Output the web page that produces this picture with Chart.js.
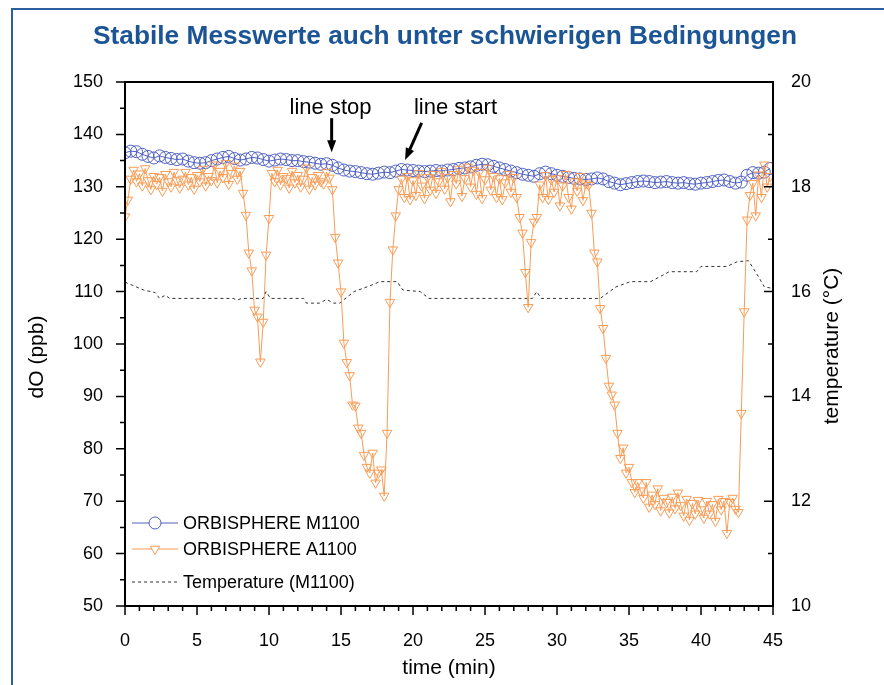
<!DOCTYPE html>
<html>
<head>
<meta charset="utf-8">
<script src="https://cdn.jsdelivr.net/npm/chart.js@4.4.0/dist/chart.umd.min.js"></script>
<style>
  html, body { margin: 0; padding: 0; background: #fff; overflow: hidden; }
  #wrap { position: relative; width: 884px; height: 685px; overflow: hidden; }
  #frame { position: absolute; left: 11px; top: 8px; width: 1200px; height: 1000px;
           border-left: 2px solid #2b5e9e; border-top: 2px solid #2b5e9e; }
  canvas { position: absolute; left: 0; top: 0; }
</style>
</head>
<body>
<div id="wrap">
  <div id="frame"></div>
  <canvas id="chart" width="884" height="685"></canvas>
</div>
<script>
// ---- data ----
const TITLE = 'Stabile Messwerte auch unter schwierigen Bedingungen';
const X_TICKS = [0, 5, 10, 15, 20, 25, 30, 35, 40, 45];
const Y_TICKS = [50, 60, 70, 80, 90, 100, 110, 120, 130, 140, 150];
const T_TICKS = [10, 12, 14, 16, 18, 20];

// M1100 dO (ppb), one value every 0.4 min from t = 0
const STEP_M = 0.4;
const dO_M1100 = [
  136.5, 136.8, 136.7, 136.2, 135.8, 135.5, 135.9, 135.6, 135.4, 135.2,
  135.3, 134.9, 134.6, 134.5, 134.6, 135.0, 135.3, 135.6, 135.8, 135.4,
  135.1, 135.3, 135.6, 135.5, 135.2, 134.9, 135.1, 135.3, 135.2, 135.0,
  135.0, 134.8, 134.7, 134.5, 134.3, 134.4, 134.1, 133.6, 133.2, 133.0,
  132.9, 132.7, 132.5, 132.4, 132.6, 132.8, 132.7, 133.0, 133.3, 133.2,
  133.1, 133.0, 132.9, 133.0, 133.1, 133.0, 133.2, 133.3, 133.5, 133.6,
  133.8, 134.1, 134.3, 134.2, 133.9, 133.6, 133.3, 133.0, 132.7, 132.4,
  132.2, 132.0, 132.5, 132.8, 132.5, 132.2, 132.0, 131.8, 131.6, 131.5,
  131.4, 131.5, 131.7, 131.5, 131.0, 130.7, 130.4, 130.6, 130.8, 131.0,
  131.1, 131.0, 130.8, 130.9, 131.0, 130.8, 130.7, 130.8, 130.6, 130.5,
  130.7, 130.8, 131.0, 131.2, 131.3, 131.0, 130.7, 130.9, 132.2, 132.7,
  132.6, 132.8, 133.5
];

// A1100 dO (ppb), one value every 0.2 min from t = 0
const STEP_A = 0.2;
const dO_A1100 = [
  124.3, 127.5, 131.5, 133.2, 131.0, 132.5, 130.2, 133.5, 131.2, 129.5,
  132.0, 130.5, 131.8, 129.2, 132.4, 131.0, 130.0, 132.8, 131.2, 129.8,
  131.5, 132.8, 130.4, 131.8, 129.6, 132.2, 131.0, 133.4, 130.2, 132.0,
  131.2, 134.2, 130.8, 133.0, 131.8, 134.5, 130.5, 132.6, 134.0, 131.5,
  133.0, 128.8, 124.6, 117.4, 114.0, 106.5, 105.2, 96.6, 104.2, 117.0,
  124.0, 132.6, 131.0, 133.2, 130.4, 132.0, 131.6, 129.8, 133.0, 130.8,
  132.2, 130.0, 131.5, 133.6, 129.6, 131.8, 130.4, 132.2, 131.0, 130.6,
  132.8, 131.7, 129.5, 120.4, 115.5, 110.0, 100.2, 96.5, 94.0, 88.4,
  88.2, 84.0, 83.0, 78.8, 76.5, 75.4, 79.2, 73.5, 75.4, 76.0,
  71.0, 83.0, 108.0, 118.0, 124.5, 129.5, 131.5, 128.0, 132.0, 127.6,
  131.2, 128.4, 132.6, 130.2, 127.8, 131.8, 129.4, 132.4, 128.8, 131.0,
  133.0, 129.6, 131.8, 127.2, 132.4, 130.6, 133.4, 128.2, 131.6, 133.8,
  130.0, 133.2, 128.6, 132.8, 127.8, 131.4, 133.6, 129.4, 132.0, 128.0,
  131.6, 127.6, 130.8, 132.4, 129.0, 131.8, 128.0, 124.2, 121.2, 113.7,
  107.0, 119.4, 123.3, 124.2, 130.4, 128.0, 132.2, 127.6, 131.4, 129.0,
  131.6, 126.4, 130.2, 132.4, 128.0, 125.8, 131.0, 129.2, 132.0, 127.4,
  130.6, 130.3, 125.0, 117.4, 115.7, 106.8, 103.0, 97.3, 92.0, 90.3,
  88.4, 83.0, 78.2, 80.2, 75.4, 76.5, 73.6, 71.7, 73.6, 72.0,
  70.6, 73.6, 68.9, 71.2, 69.4, 72.4, 68.2, 70.6, 69.8, 67.8,
  70.8, 68.6, 71.6, 69.2, 67.2, 70.4, 66.4, 69.6, 67.6, 70.2,
  68.4, 66.8, 70.0, 67.6, 69.4, 66.2, 70.4, 68.4, 70.0, 63.9,
  69.8, 70.6, 68.5, 67.9, 86.8, 106.2, 123.7, 128.4, 130.7, 124.5,
  132.3, 128.0, 134.2, 130.0, 132.0
];

// temperature of the M1100 (°C), at the break points of the dashed line
const timeTemp = [0, 1.3, 2.1, 2.4, 2.8, 3.1, 7.5, 7.8, 8.1, 9.6, 9.8, 10.1, 12.4, 12.6,
  13.5, 14.0, 14.5, 14.9, 15.9, 17.0, 17.7, 18.9, 19.3, 20.5, 21.1, 28.3, 28.6, 28.9,
  33.0, 34.1, 35.1, 36.5, 37.8, 39.7, 40.0, 41.8, 42.5, 43.3, 44.0, 44.4, 45];
const tempM1100 = [16.18, 16.03, 15.98, 15.87, 15.93, 15.87, 15.87, 15.84, 15.87, 15.87,
  16.0, 15.87, 15.87, 15.78, 15.78, 15.85, 15.78, 15.78, 16.0, 16.11, 16.19, 16.19,
  16.03, 16.0, 15.87, 15.87, 16.0, 15.87, 15.87, 16.09, 16.19, 16.19, 16.38, 16.38,
  16.48, 16.48, 16.57, 16.59, 16.28, 16.09, 16.06];

const BLUE = '#4f60c2';
const ORANGE = '#f99c55';
const FONT = '"Liberation Sans", Arial, sans-serif';

const pointsM = dO_M1100.map((v, i) => ({ x: i * STEP_M, y: v }));
const pointsA = dO_A1100.map((v, i) => ({ x: i * STEP_A, y: v }));
const pointsT = tempM1100.map((v, i) => ({ x: timeTemp[i], y: v }));

// frame, ticks, titles, legend and annotations
const decor = {
  id: 'decor',
  afterDraw(chart) {
    const { ctx, chartArea: a, scales: { x, y, y2 } } = chart;
    ctx.save();

    // title, squeezed to the width it has in the original
    ctx.fillStyle = '#1b5596';
    ctx.font = 'bold 26px "Liberation Sans Narrow", "Liberation Sans", Arial';
    const w = ctx.measureText(TITLE).width;
    ctx.save();
    ctx.translate(445, 44);
    ctx.scale(704 / w, 1);
    ctx.textAlign = 'center';
    ctx.textBaseline = 'alphabetic';
    ctx.fillText(TITLE, 0, 0);
    ctx.restore();

    // box
    ctx.strokeStyle = '#000';
    ctx.lineWidth = 2;
    ctx.strokeRect(a.left, a.top, a.right - a.left, a.bottom - a.top);

    // ticks
    ctx.lineWidth = 1.5;
    ctx.beginPath();
    for (let v = 50; v <= 150; v += 5) {
      const p = y.getPixelForValue(v), len = v % 10 === 0 ? 9 : 5;
      ctx.moveTo(a.left - len, p); ctx.lineTo(a.left, p);
    }
    for (let v = 0; v <= 45; v += 1) {
      const p = x.getPixelForValue(v), len = v % 5 === 0 ? 9 : 5;
      ctx.moveTo(p, a.bottom); ctx.lineTo(p, a.bottom + len);
    }
    for (let v = 10; v <= 20; v += 1) {
      const p = y2.getPixelForValue(v), len = v % 2 === 0 ? 9 : 5;
      ctx.moveTo(a.right - len, p); ctx.lineTo(a.right, p);
    }
    ctx.stroke();

    // axis titles
    ctx.fillStyle = '#000';
    ctx.font = '21px ' + FONT;
    ctx.textAlign = 'center';
    ctx.textBaseline = 'middle';
    ctx.fillText('time (min)', 449, 668);
    ctx.save(); ctx.translate(37, 357); ctx.rotate(-Math.PI / 2);
    ctx.fillText('dO (ppb)', 0, 0); ctx.restore();
    ctx.save(); ctx.translate(832, 346); ctx.rotate(-Math.PI / 2);
    ctx.fillText('temperature (°C)', 0, 0); ctx.restore();

    // annotations
    ctx.font = '22px ' + FONT;
    ctx.textBaseline = 'alphabetic';
    ctx.fillText('line stop', x.getPixelForValue(14.27), y.getPixelForValue(143.9));
    ctx.fillText('line start', x.getPixelForValue(22.95), y.getPixelForValue(143.9));
    const arrow = (t0, v0, t1, v1) => {
      const x0 = x.getPixelForValue(t0), y0 = y.getPixelForValue(v0);
      const x1 = x.getPixelForValue(t1), y1 = y.getPixelForValue(v1);
      const ang = Math.atan2(y1 - y0, x1 - x0), head = 12;
      ctx.lineWidth = 3;
      ctx.beginPath();
      ctx.moveTo(x0, y0);
      ctx.lineTo(x1 - Math.cos(ang) * head * 0.8, y1 - Math.sin(ang) * head * 0.8);
      ctx.stroke();
      ctx.beginPath();
      ctx.moveTo(x1, y1);
      ctx.lineTo(x1 - head * Math.cos(ang) + 4.5 * Math.sin(ang), y1 - head * Math.sin(ang) - 4.5 * Math.cos(ang));
      ctx.lineTo(x1 - head * Math.cos(ang) - 4.5 * Math.sin(ang), y1 - head * Math.sin(ang) + 4.5 * Math.cos(ang));
      ctx.closePath();
      ctx.fill();
    };
    arrow(14.35, 143.1, 14.35, 136.6);
    arrow(20.6, 142.2, 19.45, 135.1);

    // legend
    const rows = [
      { ds: chart.data.datasets[0], y: 523 },
      { ds: chart.data.datasets[1], y: 549 },
      { ds: chart.data.datasets[2], y: 582 }
    ];
    ctx.font = '18px ' + FONT;
    ctx.textAlign = 'left';
    ctx.textBaseline = 'middle';
    rows.forEach(r => {
      ctx.save();
      ctx.strokeStyle = r.ds.borderColor;
      ctx.lineWidth = 1;
      ctx.setLineDash(r.ds.borderDash || []);
      ctx.beginPath(); ctx.moveTo(132, r.y); ctx.lineTo(178, r.y); ctx.stroke();
      ctx.setLineDash([]);
      if (r.ds.pointRadius > 0) {
        ctx.fillStyle = '#fff';
        Chart.helpers.drawPoint(ctx, {
          pointStyle: r.ds.pointStyle, radius: r.ds.pointRadius,
          rotation: r.ds.pointRotation || 0, borderWidth: 1
        }, 155, r.y);
      }
      ctx.restore();
      ctx.fillStyle = '#000';
      ctx.fillText(r.ds.label, 183, r.y + 1);
    });
    ctx.restore();
  }
};

const fixed = (size) => (scale) => {
  if (scale.isHorizontal()) scale.height = size; else scale.width = size;
};
const ticksFrom = (arr) => (scale) => { scale.ticks = arr.map(v => ({ value: v })); };

new Chart(document.getElementById('chart'), {
  type: 'line',
  data: {
    datasets: [
      {
        label: 'ORBISPHERE M1100', data: pointsM, order: 1,
        borderColor: BLUE, borderWidth: 1,
        pointStyle: 'circle', pointRadius: 6, pointBorderWidth: 1,
        pointBorderColor: BLUE, pointBackgroundColor: 'rgba(255,255,255,0)'
      },
      {
        label: 'ORBISPHERE A1100', data: pointsA, order: 0,
        borderColor: ORANGE, borderWidth: 1,
        pointStyle: 'triangle', pointRotation: 180, pointRadius: 5.5, pointBorderWidth: 1,
        pointBorderColor: ORANGE, pointBackgroundColor: 'rgba(255,255,255,0)'
      },
      {
        label: 'Temperature (M1100)', data: pointsT, yAxisID: 'y2', order: 2,
        borderColor: '#333', borderWidth: 1, borderDash: [3, 3], pointRadius: 0
      }
    ]
  },
  options: {
    responsive: false,
    devicePixelRatio: 1,
    animation: false,
    layout: { padding: { top: 82, left: 0, right: 0, bottom: 0 } },
    plugins: { legend: { display: false }, tooltip: { enabled: false } },
    scales: {
      x: {
        type: 'linear', min: 0, max: 45,
        afterBuildTicks: ticksFrom(X_TICKS), afterFit: fixed(79),
        grid: { display: false }, border: { display: false },
        ticks: { padding: 16, color: '#000', font: { size: 18, family: FONT }, maxRotation: 0 }
      },
      y: {
        position: 'left', min: 50, max: 150,
        afterBuildTicks: ticksFrom(Y_TICKS), afterFit: fixed(125),
        grid: { display: false }, border: { display: false },
        ticks: { padding: 14, color: '#000', font: { size: 18, family: FONT } }
      },
      y2: {
        position: 'right', min: 10, max: 20,
        afterBuildTicks: ticksFrom(T_TICKS), afterFit: fixed(111),
        grid: { display: false }, border: { display: false },
        ticks: { padding: 10, color: '#000', font: { size: 18, family: FONT } }
      }
    }
  },
  plugins: [decor]
});
</script>
</body>
</html>
